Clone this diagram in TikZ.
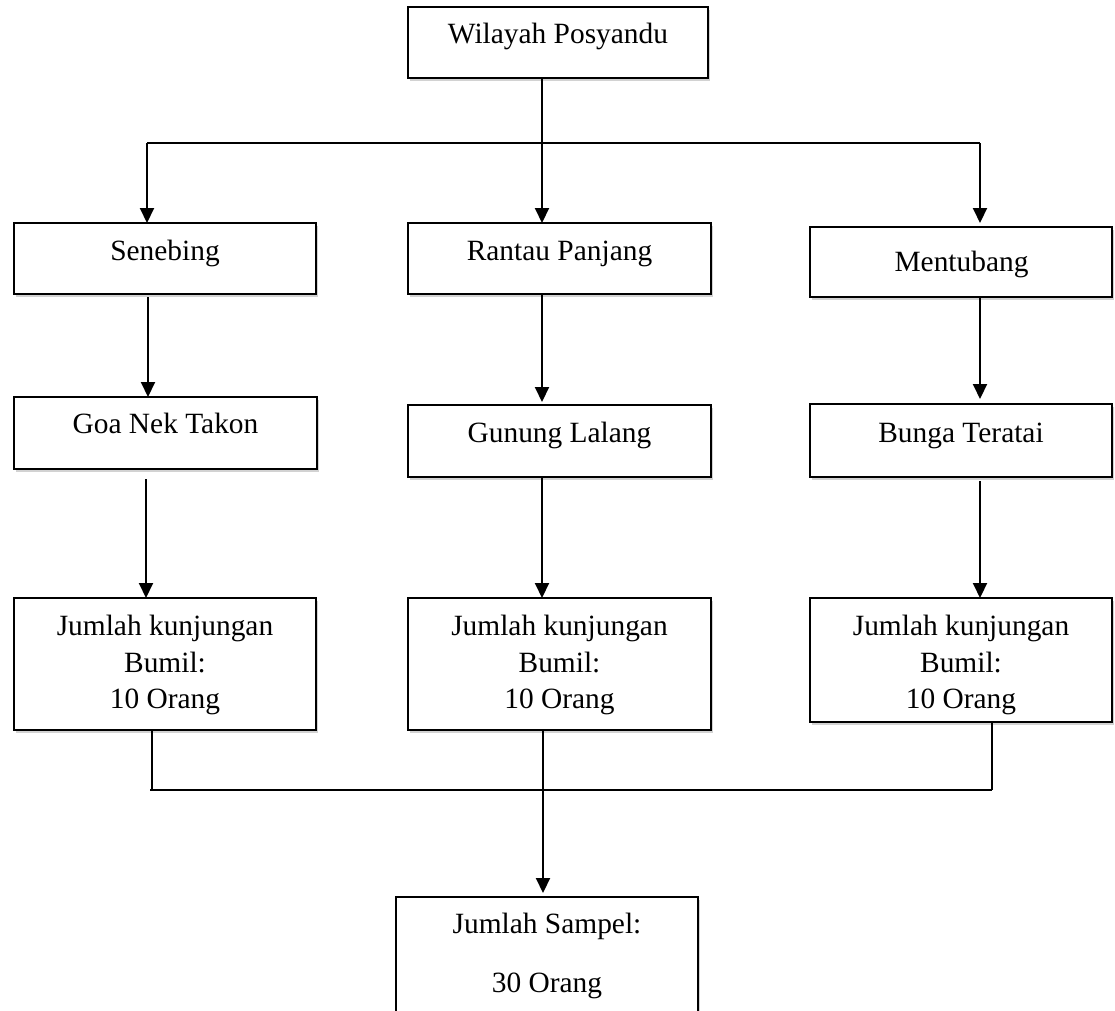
\documentclass[tikz,border=0pt]{standalone}
\usepackage{fontspec}
\setmainfont{Liberation Serif}
\usetikzlibrary{arrows.meta,shadows}
\begin{document}
\begin{tikzpicture}[x=1pt,y=-1pt,
  box/.style={draw, line width=1.9pt, inner sep=0pt, outer sep=0pt, anchor=north west, fill=white,
    drop shadow={shadow xshift=1.5pt, shadow yshift=-2.5pt, opacity=0.25, fill=black!70}},
  txt/.style={anchor=base, inner sep=0pt, font=\fontsize{29.4}{36.5}\selectfont},
  arr/.style={line width=2pt, -{Triangle[width=14pt,length=15pt]}},
  thk/.style={line width=2pt},
  thn/.style={line width=1.4pt}]
\useasboundingbox (0,0) rectangle (1115,1010);
\clip (0,0) rectangle (1115,1010);
% boxes
\node[box, minimum width=300pt, minimum height=71pt] (top) at (408,7) {};
\node[box, minimum width=302pt, minimum height=71pt] (sen) at (14,223) {};
\node[box, minimum width=303pt, minimum height=71pt] (ran) at (408,223) {};
\node[box, minimum width=302pt, minimum height=70pt] (men) at (810,227) {};
\node[box, minimum width=303pt, minimum height=72pt] (goa) at (14,397) {};
\node[box, minimum width=303pt, minimum height=72pt] (gun) at (408,405) {};
\node[box, minimum width=302pt, minimum height=73pt] (bun) at (810,404) {};
\node[box, minimum width=302pt, minimum height=132pt] (j1) at (14,598) {};
\node[box, minimum width=303pt, minimum height=132pt] (j2) at (408,598) {};
\node[box, minimum width=302pt, minimum height=124pt] (j3) at (810,598) {};
\node[box, minimum width=302pt, minimum height=160pt] (sam) at (396,897) {};
% texts
\node[txt] (t0) at (558,43) {Wilayah Posyandu};
\node[txt] (tsen) at (165,260) {Senebing};
\node[txt] (tran) at (559.5,260) {Rantau Panjang};
\node[txt] (tmen) at (961.5,271) {Mentubang};
\node[txt] (tgoa) at (165.5,433) {Goa Nek Takon};
\node[txt] (tgun) at (559.5,442) {Gunung Lalang};
\node[txt] (tbun) at (961,442) {Bunga Teratai};
\node[txt] (ja1) at (165,635) {Jumlah kunjungan};
\node[txt] (ja2) at (165,672) {Bumil:};
\node[txt] (ja3) at (165,708) {10 Orang};
\node[txt] (jb1) at (559.5,635) {Jumlah kunjungan};
\node[txt] (jb2) at (559.5,672) {Bumil:};
\node[txt] (jb3) at (559.5,708) {10 Orang};
\node[txt] (jc1) at (961,635) {Jumlah kunjungan};
\node[txt] (jc2) at (961,672) {Bumil:};
\node[txt] (jc3) at (961,708) {10 Orang};
\node[txt] (ts1) at (547,933) {Jumlah Sampel:};
\node[txt] (ts2) at (547,992) {30 Orang};
% top connectors
\coordinate (bm) at (542,143);
\coordinate (b1) at (147,143);
\coordinate (b3) at (980,143);
\draw[thk] (bm |- top.south) -- (bm);
\draw[thk] (b1) -- (b3);
\draw[arr] (b1) -- (b1 |- sen.north);
\draw[arr] (bm) -- (bm |- ran.north);
\draw[arr, shorten >=4pt] (b3) -- (b3 |- men.north);
% second level
\coordinate (c1) at (148,0);
\coordinate (c2) at (542,0);
\coordinate (c3) at (980,0);
\draw[arr, shorten <=3pt] (sen.south -| c1) -- (goa.north -| c1);
\draw[arr, shorten >=3pt] (ran.south -| c2) -- (gun.north -| c2);
\draw[arr, shorten >=5pt] (men.south -| c3) -- (bun.north -| c3);
% third level
\coordinate (d1) at (146,0);
\coordinate (d2) at (542,0);
\coordinate (d3) at (980,0);
\draw[arr, shorten <=10pt] (goa.south -| d1) -- (j1.north -| d1);
\draw[arr] (gun.south -| d2) -- (j2.north -| d2);
\draw[arr, shorten <=4pt] (bun.south -| d3) -- (j3.north -| d3);
% bottom collection
\coordinate (e0) at (150,790);
\coordinate (e1) at (152,790);
\coordinate (e2) at (543,790);
\coordinate (e3) at (992,790);
\draw[thn] (j1.south -| e1) -- (e1);
\draw[thn] (j2.south -| e2) -- (e2);
\draw[thn] (j3.south -| e3) -- (e3);
\draw[thn] (e0) -- (e3);
\draw[arr, shorten >=4pt] (e2) -- (e2 |- sam.north);
\end{tikzpicture}
\end{document}
